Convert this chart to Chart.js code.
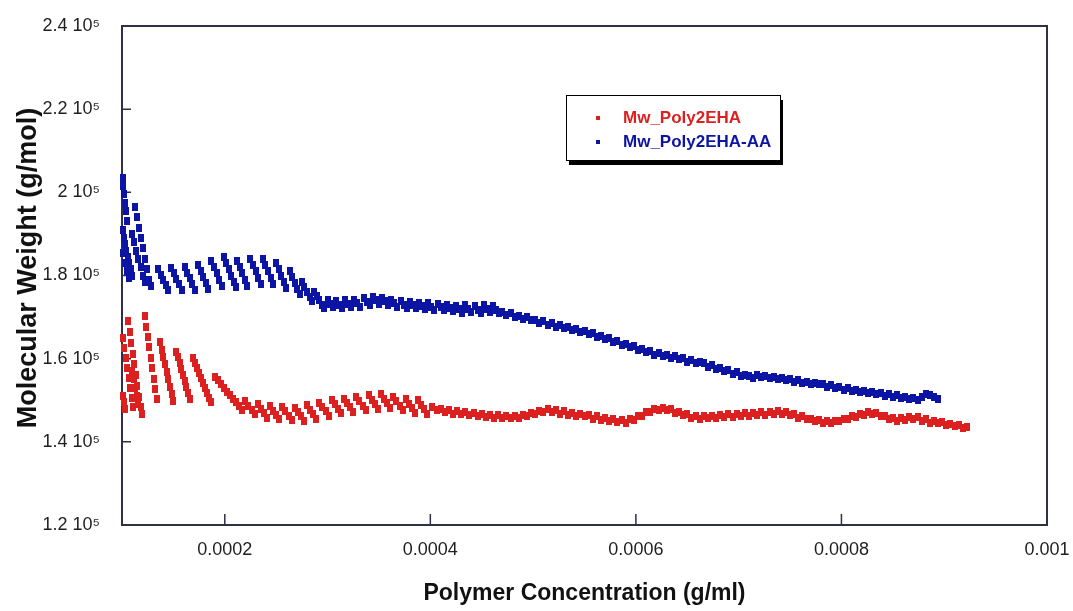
<!DOCTYPE html>
<html>
<head>
<meta charset="utf-8">
<script src="https://cdn.jsdelivr.net/npm/chart.js@4.4.0/dist/chart.umd.min.js"></script>
<style>
  html, body { margin: 0; background: #fff; }
  #wrap { width: 1073px; height: 611px; }
</style>
</head>
<body>
<div id="wrap"><canvas id="mwChart"></canvas></div>
<script>
// units the data below is written in
const concUnit = 1e-5   // g/ml
const mwUnit = 1e3      // g/mol

const seriesNames = ['Mw_Poly2EHA', 'Mw_Poly2EHA-AA']
const seriesColors = ['#dc1f1f', '#0c15a3']

const xTicks = [0.0002, 0.0004, 0.0006, 0.0008, 0.001]
const xTickLabels = ['0.0002', '0.0004', '0.0006', '0.0008', '0.001']
const yTicks = [120000, 140000, 160000, 180000, 200000, 220000, 240000]
const yTickLabels = ['1.2 10⁵', '1.4 10⁵', '1.6 10⁵', '1.8 10⁵', '2 10⁵', '2.2 10⁵', '2.4 10⁵']

// [concentration (1e-5 g/ml), Mw (1e3 g/mol)]
const mwPoly2EHA = [
    [10.05,151],[10.15,149.5],[10.3,147.8],
    [10.05,165],[10.2,162.6],[10.35,160.2],[10.5,157.8],[10.65,155.4],[10.8,153],[10.95,150.6],[11.1,148.4],
    [10.6,169],[10.75,166.4],[10.9,163.8],[11.05,161.2],[11.2,158.6],[11.35,156],[11.5,153.4],[11.65,150.8],[11.8,148.3],[11.9,146.8],
    [11.0,157],[11.15,155],[11.3,153],[11.45,151],[11.6,149.2],
    [12.2,170.2],[12.35,167.7],[12.5,165.2],[12.65,162.7],[12.8,160.2],[12.95,157.7],[13.1,155.2],[13.25,152.6],[13.4,150.2],
    [13.7,164.0],[13.86,162.2],[14.02,160.4],[14.18,158.6],[14.34,156.8],[14.5,155.0],[14.66,153.2],[14.82,151.4],[15.0,149.8],
    [15.3,161.7],[15.46,160.3],[15.62,158.9],[15.78,157.5],[15.94,156.1],[16.1,154.6],[16.26,153.2],[16.42,151.7],[16.6,150.2],
    [16.9,160.2],[17.1,159],[17.3,157.8],[17.5,156.6],[17.7,155.4],[17.9,154.2],[18.1,153],[18.3,151.8],[18.5,150.6],[18.7,149.5],
    [19.0,155.7],[19.3,154.8],[19.6,153.9],[19.9,153],[20.2,152.1],[20.5,151.2],[20.8,150.4],[21.1,149.5],[21.4,148.6],[21.7,147.7],
    [22.0,149.8],[22.3,148.7],[22.6,147.7],[22.9,146.6],
    [23.2,149.0],[23.5,147.9],[23.8,146.9],[24.1,145.8],
    [24.4,148.6],[24.7,147.5],[25.0,146.5],[25.3,145.4],
    [25.6,148.4],[25.9,147.3],[26.2,146.3],[26.5,145.2],
    [26.8,148.2],[27.1,147.1],[27.4,146.1],[27.7,145.0],
    [28.0,148.8],[28.3,147.7],[28.6,146.7],[28.9,145.6],
    [29.2,149.4],[29.5,148.3],[29.8,147.3],[30.1,146.2],
    [30.4,150.1],[30.7,149.0],[31.0,148.0],[31.3,146.9],
    [31.6,150.4],[31.9,149.3],[32.2,148.3],[32.5,147.2],
    [32.8,150.8],[33.1,149.7],[33.4,148.7],[33.7,147.6],
    [34.0,151.2],[34.3,150.1],[34.6,149.1],[34.9,148.0],
    [35.2,151.4],[35.5,150.3],[35.8,149.3],[36.1,148.2],
    [36.4,150.8],[36.7,149.7],[37.0,148.7],[37.3,147.6],
    [37.6,150.2],[37.9,149.1],[38.2,148.1],[38.5,147.0],
    [38.8,150.0],[39.1,148.9],[39.4,147.9],[39.7,146.8],
    [40.2,148.4],[40.6,147.6],[41.0,148.0],[41.4,147.2],[41.8,147.6],[42.2,146.8],[42.6,147.3],[43.0,146.6],
    [43.4,147.1],[43.8,146.5],[44.2,146.9],[44.6,146.2],[45.0,146.7],[45.4,146.0],[45.8,146.5],[46.2,145.8],
    [46.6,146.4],[47.0,145.7],[47.4,146.3],[47.8,145.7],[48.2,146.3],[48.6,145.8],[49.0,146.5],[49.4,146.2],
    [49.8,146.9],[50.2,146.6],[50.6,147.4],[51.0,147.2],[51.4,147.8],[51.8,147.2],[52.2,147.6],[52.6,146.8],
    [53.0,147.3],[53.4,146.5],[53.8,147.0],[54.2,146.2],[54.6,146.8],[55.0,146.1],[55.4,146.5],[55.8,145.6],
    [56.2,146.1],[56.6,145.3],[57.0,145.8],[57.4,145.0],[57.8,145.5],[58.2,144.7],[58.6,145.2],[59.0,144.6],
    [59.4,145.4],[59.8,145.3],[60.2,146.2],[60.6,146.2],[61.0,147.1],[61.4,147.2],[61.8,147.9],[62.2,147.6],
    [62.6,148.2],[63.0,147.6],[63.4,147.8],[63.8,147.0],[64.2,147.2],[64.6,146.4],[65.0,146.6],[65.4,145.8],
    [65.8,146.1],[66.2,145.5],[66.6,146.1],[67.0,145.7],[67.4,146.3],[67.8,145.8],[68.2,146.5],[68.6,145.9],
    [69.0,146.6],[69.4,146.0],[69.8,146.7],[70.2,146.1],[70.6,146.9],[71.0,146.3],[71.4,147.0],[71.8,146.4],
    [72.2,147.1],[72.6,146.5],[73.0,147.2],[73.4,146.6],[73.8,147.3],[74.2,146.7],[74.6,147.2],[75.0,146.4],
    [75.4,146.7],[75.8,145.8],[76.2,146.1],[76.6,145.4],[77.0,145.6],[77.4,144.9],[77.8,145.2],[78.2,144.5],
    [78.6,145.0],[79.0,144.5],[79.4,145.1],[79.8,144.9],[80.2,145.6],[80.6,145.4],[81.0,146.1],[81.4,145.9],
    [81.8,146.6],[82.2,146.5],[82.6,147.1],[83.0,146.8],[83.4,146.9],[83.8,146.1],[84.2,146.2],[84.6,145.4],
    [85.0,145.7],[85.4,145.1],[85.8,145.7],[86.2,145.3],[86.6,146.0],[87.0,145.5],[87.4,145.9],[87.8,145.1],
    [88.2,145.4],[88.6,144.6],[89.0,145.0],[89.4,144.5],[89.8,144.8],[90.2,144.1],[90.6,144.4],[91.0,143.7],
    [91.4,144.0],[91.8,143.4],[92.2,143.6]
]

const mwPoly2EHAAA = [
    [10.05,203.5],[10.1,201.5],[10.2,199.5],[10.3,197.5],[10.4,195.5],[10.5,193],
    [10.05,191],[10.15,189],[10.25,187.5],[10.4,186],[10.55,184.5],[10.7,183],[10.85,181.5],[11.0,180],
    [10.1,185.5],[10.3,183],[10.5,181],[10.7,179.5],
    [11.0,190],[11.2,188],[11.4,186],[11.6,184],[11.8,182],[12.0,180],[12.2,178.5],
    [11.25,196.5],[11.45,194],[11.65,191.5],[11.85,189],[12.05,186.5],[12.25,184],[12.45,181.5],[12.65,179],[12.85,177.5],
    [13.5,181.5],[13.75,180.2],[14.0,179],[14.25,177.8],[14.5,176.6],
    [14.8,181.8],[15.05,180.5],[15.3,179.2],[15.55,178],[15.8,176.6],
    [16.1,182],[16.35,180.7],[16.6,179.4],[16.85,178],[17.1,176.5],
    [17.4,182.5],[17.65,181],[17.9,179.6],[18.15,178.2],[18.4,176.8],
    [18.7,183.5],[18.95,182],[19.2,180.5],[19.45,179],[19.7,177.5],
    [19.9,184.5],[20.15,183],[20.4,181.5],[20.65,180],[20.9,178.5],[21.1,177.2],
    [21.2,183.5],[21.45,182],[21.7,180.5],[21.95,179],[22.2,177.5],
    [22.5,184],[22.75,182.5],[23.0,181],[23.25,179.5],[23.5,178],
    [23.7,184],[23.95,182.5],[24.2,181],[24.45,179.5],[24.7,178],
    [25.0,183],[25.25,181.5],[25.5,180],[25.75,178.5],[26.0,177],
    [26.3,181],[26.55,179.6],[26.8,178.2],[27.05,176.8],[27.3,175.6],
    [27.5,178.5],[27.75,177.2],[28.0,176],[28.25,174.8],[28.5,173.8],
    [28.7,176],[28.95,175],[29.2,174],[29.45,173],[29.7,172.2],
    [30.0,174],[30.25,173.2],[30.5,172.4],
    [30.8,173.8],[31.1,173.0],[31.4,172.2],
    [31.7,174.0],[32.0,173.2],[32.3,172.4],
    [32.6,174.1],[32.9,173.3],[33.2,172.5],
    [33.5,174.5],[33.8,173.7],[34.1,172.9],
    [34.4,174.8],[34.7,174.0],[35.0,173.2],
    [35.3,174.6],[35.6,173.8],[35.9,173.0],
    [36.2,174.1],[36.5,173.3],[36.8,172.5],
    [37.1,173.8],[37.4,173.0],[37.7,172.2],
    [38.0,173.7],[38.3,172.9],[38.6,172.1],
    [38.9,173.5],[39.2,172.7],[39.5,171.9],
    [39.8,173.3],[40.1,172.5],[40.4,171.7],
    [40.7,173.2],[41.0,172.4],[41.3,171.6],
    [41.6,173.0],[41.9,172.2],[42.2,171.4],
    [42.5,172.7],[42.8,171.9],[43.1,171.1],
    [43.4,172.8],[43.7,172.0],[44.0,171.2],
    [44.3,172.6],[44.6,171.8],[44.9,171.0],
    [45.2,172.8],[45.5,172.0],[45.8,171.2],
    [46.1,172.6],[46.4,171.8],[46.7,171.0],
    [47.0,171.3],[47.4,170.6],[47.8,170.9],[48.2,170.1],[48.6,170.3],[49.0,169.5],[49.4,169.9],[49.8,169.2],
    [50.2,169.4],[50.6,168.6],[51.0,169.0],[51.4,168.2],[51.8,168.5],[52.2,167.7],[52.6,168.1],[53.0,167.3],
    [53.4,167.6],[53.8,166.8],[54.2,167.1],[54.6,166.4],
    [55.0,166.7],[55.4,165.9],[55.8,166.1],[56.2,165.3],[56.6,165.5],[57.0,164.7],[57.4,164.9],[57.8,164.1],
    [58.2,164.3],[58.6,163.4],[59.0,163.6],[59.4,162.8],[59.8,163.0],[60.2,162.2],[60.6,162.3],[61.0,161.6],
    [61.4,161.8],[61.8,161.0],[62.2,161.4],[62.6,160.6],[63.0,161.0],[63.4,160.2],[63.8,160.6],[64.2,159.8],
    [64.6,160.1],[65.0,159.3],[65.4,159.7],[65.8,158.9],[66.2,159.2],
    [66.6,158.9],[67.0,158.1],[67.4,158.4],[67.8,157.5],[68.2,157.8],[68.6,157.0],[69.0,157.3],[69.4,156.4],
    [69.8,156.7],[70.2,155.8],[70.6,156.1],
    [71.0,155.9],[71.4,155.4],[71.8,156.0],[72.2,155.5],[72.6,155.9],[73.0,155.3],[73.4,155.7],[73.8,155.1],
    [74.2,155.4],[74.6,154.8],[75.0,155.1],[75.4,154.5],[75.8,154.8],[76.2,154.2],[76.6,154.5],[77.0,153.9],
    [77.4,154.2],[77.8,153.8],[78.2,154.0],[78.6,153.3],[79.0,153.6],[79.4,152.9],[79.8,153.2],[80.2,152.5],
    [80.6,152.9],[81.0,152.2],[81.4,152.5],[81.8,151.9],[82.2,152.2],
    [82.6,151.7],[83.0,152.0],[83.4,151.4],[83.8,151.7],[84.2,151.1],[84.6,151.4],[85.0,150.9],[85.4,151.2],
    [85.8,150.6],[86.2,150.9],[86.6,150.3],[87.0,150.6],[87.4,150.0],[87.8,150.8],[88.2,151.5],[88.6,151.2],
    [89.0,150.7],[89.4,150.4]
]

const seriesData = [mwPoly2EHA, mwPoly2EHAAA]

// small filled rectangle used as the marker
function markImage(color) {
    const c = document.createElement('canvas')
    c.width = 6
    c.height = 8
    const g = c.getContext('2d')
    g.fillStyle = color
    g.fillRect(0, 0, 6, 8)
    return c
}

// box round the plot and the inward tick marks
const frame = {
    id: 'frame',
    beforeDatasetsDraw(chart) {
        const {ctx, chartArea: a, scales} = chart
        ctx.save()
        ctx.strokeStyle = '#2e3045'
        ctx.lineWidth = 2
        ctx.strokeRect(a.left, a.top, a.right - a.left, a.bottom - a.top)
        ctx.lineWidth = 1.5
        ctx.beginPath()
        xTicks.slice(0, -1).forEach(v => {
            const x = scales.x.getPixelForValue(v)
            ctx.moveTo(x, a.bottom)
            ctx.lineTo(x, a.bottom - 11)
        })
        yTicks.slice(1, -1).forEach(v => {
            const y = scales.y.getPixelForValue(v)
            ctx.moveTo(a.left, y)
            ctx.lineTo(a.left + 9, y)
        })
        ctx.stroke()
        ctx.restore()
    }
}

// legend box with drop shadow
const legendBox = {
    id: 'legendBox',
    afterDatasetsDraw(chart) {
        const ctx = chart.ctx
        const x = 566, y = 95, w = 214, h = 65
        ctx.save()
        ctx.fillStyle = '#000'
        ctx.fillRect(x + 3, y + 5, w, h)
        ctx.fillStyle = '#fff'
        ctx.fillRect(x, y, w, h)
        ctx.strokeStyle = '#000'
        ctx.lineWidth = 1
        ctx.strokeRect(x + 0.5, y + 0.5, w, h)
        ctx.font = 'bold 17px "Liberation Sans", Arial, sans-serif'
        ctx.textBaseline = 'middle'
        chart.data.datasets.forEach((ds, i) => {
            const ly = y + 23 + i * 24
            ctx.fillStyle = ds.legendColor
            ctx.fillRect(x + 30, ly - 2, 4, 4)
            ctx.fillText(ds.label, x + 57, ly)
        })
        ctx.restore()
    }
}

const datasets = seriesData.map((pts, i) => ({
    label: seriesNames[i],
    legendColor: seriesColors[i],
    data: pts.map(p => ({x: p[0] * concUnit, y: p[1] * mwUnit})),
    pointStyle: markImage(seriesColors[i]),
    pointRadius: 3,
    showLine: false,
    clip: 6
}))

new Chart(document.getElementById('mwChart'), {
    type: 'scatter',
    data: {datasets},
    options: {
        responsive: true,
        maintainAspectRatio: false,
        animation: false,
        layout: {padding: {left: 0, top: 26, right: 26, bottom: 0}},
        plugins: {legend: {display: false}, tooltip: {enabled: false}},
        scales: {
            x: {
                type: 'linear',
                min: 0.0001,
                max: 0.001,
                afterBuildTicks: s => { s.ticks = xTicks.map(v => ({value: v})) },
                afterFit: s => {
                    s.height = 86
                    s.paddingLeft = 0
                    s.paddingRight = 0
                },
                grid: {display: false, drawTicks: false},
                border: {display: false},
                ticks: {
                    callback: (v, i) => xTickLabels[i],
                    padding: 14,
                    maxRotation: 0,
                    color: '#1e1e1e',
                    font: {family: '"Liberation Sans", Arial, sans-serif', size: 18}
                },
                title: {
                    display: true,
                    text: 'Polymer Concentration (g/ml)',
                    color: '#111',
                    padding: {top: 0, bottom: 4},
                    font: {family: '"Liberation Sans", Arial, sans-serif', size: 23, weight: 'bold'}
                }
            },
            y: {
                type: 'linear',
                min: 120000,
                max: 240000,
                afterBuildTicks: s => { s.ticks = yTicks.map(v => ({value: v})) },
                afterFit: s => {
                    s.width = 122
                    s.paddingTop = 0
                    s.paddingBottom = 0
                },
                grid: {display: false, drawTicks: false},
                border: {display: false},
                ticks: {
                    callback: (v, i) => yTickLabels[i],
                    padding: 22,
                    color: '#1e1e1e',
                    font: {family: '"Liberation Sans", Arial, sans-serif', size: 18}
                },
                title: {
                    display: true,
                    text: '  Molecular Weight (g/mol)',
                    color: '#111',
                    padding: {top: 12, bottom: 0},
                    font: {family: '"Liberation Sans", Arial, sans-serif', size: 27, weight: 'bold'}
                }
            }
        }
    },
    plugins: [frame, legendBox]
})
</script>
</body>
</html>
